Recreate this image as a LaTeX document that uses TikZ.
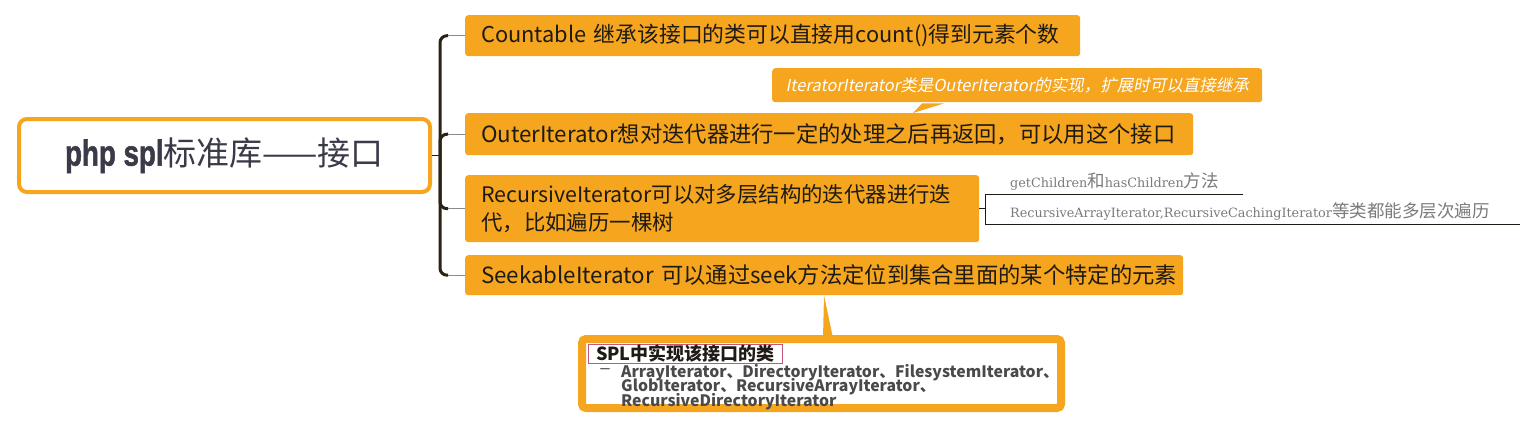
\documentclass[tikz,border=0pt]{standalone}
\usepackage{fontspec}
\usetikzlibrary{positioning,calc}
\newfontfamily\cjk{Noto Sans CJK SC}
\newfontfamily\cjkslant[FakeSlant=0.2]{Noto Sans CJK SC}
\newfontfamily\slab{DejaVu Serif}
\newfontfamily\heavy[BoldFeatures={FakeBold=1.6}]{Liberation Sans}
\definecolor{mmOrange}{HTML}{F5A51E}
\definecolor{mmInk}{HTML}{1E1A14}
\definecolor{mmTrunk}{HTML}{2B2114}
\definecolor{mmTwig}{HTML}{8A8A8A}
\definecolor{mmNote}{HTML}{7A7A7A}
\definecolor{mmPink}{HTML}{C4587A}
\definecolor{mmRoot}{HTML}{3A3A48}
\definecolor{mmItem}{HTML}{4A4A4A}
\newcommand{\slabtxt}[1]{{\slab\fontsize{12.8}{18}\selectfont #1}}
\newcommand{\tightlines}{\lineskiplimit=-50pt\relax}

\begin{document}
\begin{tikzpicture}[x=1pt,y=-1pt,font=\cjk,
    topic/.style={fill=mmOrange,rounded corners=3pt,text=mmInk,anchor=north west,
                  font=\cjk\fontsize{22.3}{26}\selectfont,inner xsep=16pt,align=left},
    trunk/.style={draw=mmTrunk,line width=3pt,rounded corners=7pt},
    twig/.style={draw=mmTwig,line width=1.2pt},
    rule/.style={draw=mmInk,line width=0.8pt},
    remark/.style={text=mmNote,anchor=south west,inner xsep=0pt,inner ysep=3pt,align=left,
                   font=\cjk\fontsize{17.5}{19}\selectfont}]
  \useasboundingbox (0,0) rectangle (1536,429);
  % root
  \node[draw=mmOrange,line width=4pt,rounded corners=8pt,fill=white,text=mmRoot,
        minimum width=411pt,minimum height=73pt] (root) at (224.5,155.5)
        {{\heavy\bfseries\fontsize{36}{40}\selectfont\scalebox{0.77}[1]{php spl}}{\fontsize{33}{38}\selectfont 标准库——接口}};
  % topics
  \node[topic,text width=583pt,minimum height=41pt,font=\cjk\fontsize{21.8}{26}\selectfont] (cnt) at (465,15)
        {\mbox{Countable 继承该接口的类可以直接用count()得到元素个数}};
  \node[topic,text width=696pt,minimum height=42pt] (outer) at (465,113)
        {OuterIterator想对迭代器进行一定的处理之后再返回，可以用这个接口};
  \node[topic,text width=482pt,minimum height=67pt,font=\cjk\fontsize{21.4}{28}\selectfont] (recur) at (465,175)
        {RecursiveIterator可以对多层结构的迭代器进行迭\\代，比如遍历一棵树};
  \node[topic,text width=686pt,minimum height=40pt] (seek) at (465,255)
        {SeekableIterator 可以通过seek方法定位到集合里面的某个特定的元素};
  % bracket
  \coordinate (hub) at ($(root.east)+(8,0)$);
  \draw[rule] (root.east) -- (hub);
  \draw[trunk] ($(cnt.west)+(-17,0)$) -| ($(recur.west)+(-25,0)$) -- ($(recur.west)+(-17,0)$);
  \draw[trunk] ($(outer.west)+(-17,0)$) -| ($(seek.west)+(-25,0)$) -- ($(seek.west)+(-17,0)$);
  \foreach \t in {cnt,outer,recur,seek}
    \draw[twig] ($(\t.west)+(-17,0)$) -- (\t.west);
  % callout on OuterIterator
  \node[fill=mmOrange,rounded corners=3pt,text=white,anchor=north west,
        font=\cjkslant\fontsize{16.5}{19}\selectfont,minimum width=490pt,minimum height=34pt] (note) at (772,68)
        {IteratorIterator类是OuterIterator的实现，扩展时可以直接继承};
  \fill[mmOrange] ($(note.south west)+(150,1)$) -- ($(note.south west)+(172,1)$)
        -- ($(outer.north west)+(448,0)$) -- cycle;
  % remarks on RecursiveIterator
  \node[remark,text width=258pt] (kids) at (985,194)
        {\hspace*{25pt}\slabtxt{getChildren}和\slabtxt{hasChildren}方法};
  \node[remark,text width=535pt] (deep) at (985,224)
        {\hspace*{25pt}\slabtxt{RecursiveArrayIterator,RecursiveCachingIterator}等类都能多层次遍历};
  \coordinate (fork) at (recur.east -| kids.south west);
  \draw[rule] (recur.east) -- (fork);
  \draw[rule] (kids.south east) -- (kids.south west) -- (deep.south west) -- (deep.south east);
  % implementing classes
  \node[draw=mmOrange,line width=8pt,rounded corners=4pt,fill=white,anchor=north west,
        minimum width=479pt,minimum height=69pt,inner sep=0pt] (impl) at (578,335) {};
  \fill[mmOrange] ($(impl.north west)+(245,3)$) -- ($(impl.north west)+(255,3)$)
        -- ($(seek.south west)+(359,0)$) -- cycle;
  \node[draw=mmPink,line width=0.8pt,anchor=north west,inner sep=0.5pt,minimum width=194pt,minimum height=19pt,
        font=\cjk\bfseries\fontsize{18}{19}\selectfont,text=mmInk] (title) at (588,344) {SPL中实现该接口的类};
  \node[anchor=north west,inner sep=0pt,align=left,text=mmItem,
        font=\cjk\bfseries\fontsize{15.8}{14.5}\selectfont\tightlines] (items) at (621,364)
        {ArrayIterator、DirectoryIterator、FilesystemIterator、\\GlobIterator、RecursiveArrayIterator、\\RecursiveDirectoryIterator};
  \node[text=mmItem,font=\heavy\fontsize{17}{18}\selectfont,inner sep=0pt,anchor=east] (dash)
        at ($(items.north west)+(-11,7)$) {–};
\end{tikzpicture}
\end{document}
